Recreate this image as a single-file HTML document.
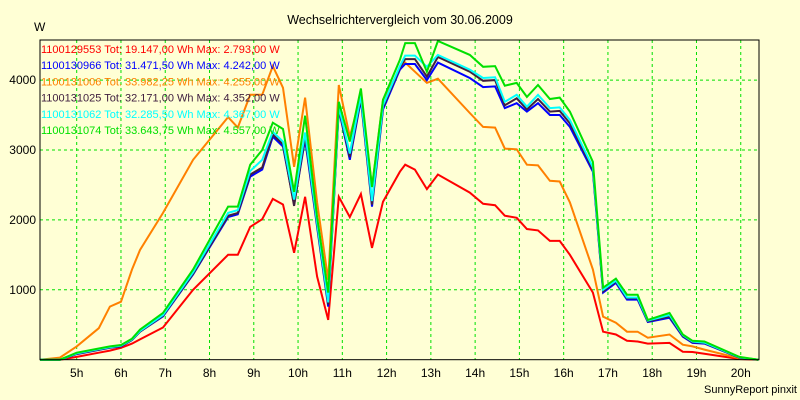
<!DOCTYPE html>
<html><head><meta charset="utf-8"><style>
body{margin:0;background:#FFFFD5;}
svg{display:block;font-family:"Liberation Sans",Arial,sans-serif;}
</style></head><body>
<svg id="chart" width="800" height="400" viewBox="0 0 800 400" xmlns="http://www.w3.org/2000/svg">
<rect x="0" y="0" width="800" height="400" fill="#FFFFD5"/>
<text x="400" y="24" font-size="12.5" text-anchor="middle" fill="#000">Wechselrichtervergleich vom 30.06.2009</text>
<text x="34" y="31" font-size="12" fill="#000">W</text>
<text x="797" y="393" font-size="11" text-anchor="end" fill="#000">SunnyReport pinxit</text>
<g id="grid"></g>
<g id="series"></g>
<rect x="40" y="40" width="719" height="319.7" fill="none" stroke="#000" stroke-width="1"/>
<g id="labels"></g>
<g id="legend"></g>
</svg>
<script>
const times=[4.17,4.62,5.0,5.5,5.75,6.0,6.25,6.43,6.95,7.63,8.42,8.64,8.92,9.19,9.43,9.66,9.91,10.16,10.43,10.68,10.92,11.17,11.42,11.67,11.92,12.30,12.42,12.64,12.91,13.16,13.88,14.18,14.45,14.67,14.94,15.17,15.42,15.69,15.91,16.14,16.66,16.89,17.18,17.43,17.67,17.90,18.39,18.69,18.91,19.18,19.97,20.40];
const red=[0,0,40,100,130,170,230,290,460,1000,1500,1500,1900,2010,2300,2220,1530,2330,1190,570,2330,2040,2370,1600,2260,2690,2790,2720,2440,2650,2390,2230,2210,2060,2030,1870,1850,1700,1700,1500,960,400,360,270,260,230,240,115,110,85,10,0];
const orange=[0,30,190,450,760,830,1290,1570,2100,2860,3470,3320,3790,3790,4200,3890,2760,3750,2250,1140,3930,3190,3790,2470,3720,4150,4250,4120,3960,4020,3530,3330,3320,3020,3010,2790,2780,2560,2550,2250,1290,615,530,400,400,315,360,215,190,145,20,0];
const blue=[0,0,80,140,170,190,280,400,620,1220,2040,2080,2620,2720,3190,3050,2220,3150,1900,760,3580,2860,3720,2190,3580,4150,4230,4230,4000,4250,4030,3900,3910,3600,3670,3550,3670,3500,3500,3330,2690,960,1100,860,860,540,600,330,240,230,30,0];
const purple=[0,0,85,145,175,195,285,400,630,1230,2060,2100,2650,2750,3220,3080,2200,3200,1930,790,3600,2900,3750,2220,3610,4180,4300,4300,4050,4330,4120,3990,4000,3640,3740,3580,3730,3550,3560,3380,2720,980,1120,880,880,550,620,340,250,240,30,0];
const cyan=[0,0,90,150,180,200,290,410,640,1250,2100,2140,2700,2860,3260,3120,2290,3250,1960,820,3620,2950,3780,2270,3640,4200,4350,4350,4190,4360,4150,4030,4040,3690,3790,3620,3790,3600,3610,3430,2750,1000,1130,890,890,560,640,350,260,245,35,0];
const green=[0,0,100,160,190,210,300,430,670,1290,2190,2190,2790,3000,3390,3300,2400,3490,2040,960,3690,3120,3880,2470,3720,4290,4530,4530,4120,4560,4360,4190,4200,3920,3960,3760,3930,3730,3750,3550,2830,1030,1160,930,930,570,670,360,270,260,40,0];
const hourTicks=[5,6,7,8,9,10,11,12,13,14,15,16,17,18,19,20];
const yTicks=[1000,2000,3000,4000];
const legendLabels=["1100129553 Tot: 19.147,00 Wh Max: 2.793,00 W","1100130966 Tot: 31.471,50 Wh Max: 4.242,00 W","1100131006 Tot: 33.982,25 Wh Max: 4.255,00 W","1100131025 Tot: 32.171,00 Wh Max: 4.352,00 W","1100131062 Tot: 32.285,50 Wh Max: 4.367,00 W","1100131074 Tot: 33.643,75 Wh Max: 4.557,00 W"];
const legendColors=["#FF0000","#0000FF","#FF8000","#402040","#00FFFF","#00E000"];

const NS="http://www.w3.org/2000/svg";
function xs(h){return 76.7+(h-5)*44.27;}
function ys(v){return 359.7-v*0.0699;}
const grid=document.getElementById('grid');
hourTicks.forEach(h=>{
  const l=document.createElementNS(NS,'line');
  
  
  l.setAttribute('x1',xs(h));l.setAttribute('x2',xs(h));l.setAttribute('y1',40);l.setAttribute('y2',359.7);
  l.setAttribute('stroke','#00E000');l.setAttribute('stroke-dasharray','3,3');
  grid.appendChild(l);
});
yTicks.forEach(v=>{
  const l=document.createElementNS(NS,'line');
  
  
  l.setAttribute('x1',40);l.setAttribute('x2',759);l.setAttribute('y1',ys(v));l.setAttribute('y2',ys(v));
  l.setAttribute('stroke','#00E000');l.setAttribute('stroke-dasharray','3,3');
  grid.appendChild(l);
});
const labels=document.getElementById('labels');
hourTicks.forEach(h=>{
  const t=document.createElementNS(NS,'text');
  
  
  t.setAttribute('x',xs(h));t.setAttribute('y',377);t.setAttribute('font-size','12');t.setAttribute('text-anchor','middle');
  t.textContent=h+'h';labels.appendChild(t);
});
yTicks.forEach(v=>{
  const t=document.createElementNS(NS,'text');
  
  
  t.setAttribute('x',36);t.setAttribute('y',ys(v)+4);t.setAttribute('font-size','12');t.setAttribute('text-anchor','end');
  t.textContent=v;labels.appendChild(t);
});
const seriesG=document.getElementById('series');
const order=[[red,0,'series-1100129553'],[orange,2,'series-1100131006'],[blue,1,'series-1100130966'],[purple,3,'series-1100131025'],[cyan,4,'series-1100131062'],[green,5,'series-1100131074']];
order.forEach(([arr,ci,name])=>{
  const p=document.createElementNS(NS,'polyline');
  
  
  p.setAttribute('points',arr.map((v,i)=>xs(times[i]).toFixed(1)+','+ys(v).toFixed(1)).join(' '));
  p.setAttribute('fill','none');p.setAttribute('stroke',legendColors[ci]);p.setAttribute('stroke-width','2');
  seriesG.appendChild(p);
});
const legend=document.getElementById('legend');
legendLabels.forEach((s,i)=>{
  const t=document.createElementNS(NS,'text');
  
  
  t.setAttribute('x',41);t.setAttribute('y',53+i*16.2);t.setAttribute('font-size','11');t.setAttribute('fill',legendColors[i]);
  t.textContent=s;legend.appendChild(t);
});
</script>
</body></html>
